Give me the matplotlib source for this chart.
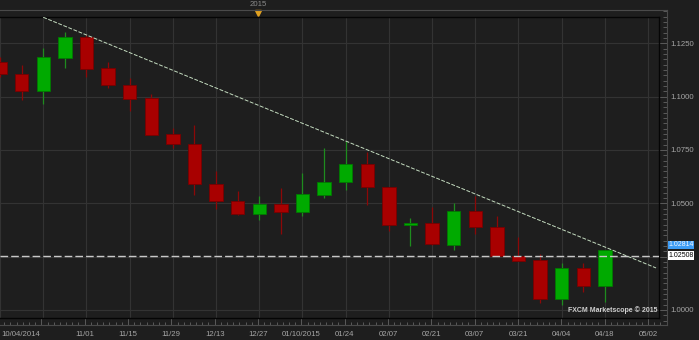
import numpy as np
import matplotlib
matplotlib.use("Agg")
import matplotlib.pyplot as plt
import matplotlib.transforms as mtrans
from matplotlib.ticker import MultipleLocator, FixedLocator

plt.rcParams['font.family'] = ['Liberation Sans', 'DejaVu Sans']

# weekly EUR/USD candles, week index 0 = 10/04/2014
opens = [1.1162, 1.1106, 1.1027, 1.1182, 1.1281, 1.1133, 1.1054, 1.0992, 1.0824, 1.0780,
         1.0592, 1.0510, 1.0449, 1.0495, 1.0457, 1.0541, 1.0600, 1.0686, 1.0576, 1.0398,
         1.0407, 1.0305, 1.0465, 1.0391, 1.0254, 1.0232, 1.0050, 1.0196, 1.0111]
highs = [1.1185, 1.1148, 1.1227, 1.1303, 1.1290, 1.1162, 1.1088, 1.1013, 1.0853, 1.0866,
         1.0650, 1.0557, 1.0536, 1.0571, 1.0640, 1.0757, 1.0793, 1.0741, 1.0578, 1.0430,
         1.0482, 1.0503, 1.0533, 1.0440, 1.0341, 1.0263, 1.0219, 1.0222, 1.0283]
lows = [1.1090, 1.0984, 1.0966, 1.1135, 1.1090, 1.1039, 1.0933, 1.0820, 1.0761, 1.0537,
        1.0475, 1.0447, 1.0423, 1.0357, 1.0442, 1.0523, 1.0561, 1.0490, 1.0368, 1.0302,
        1.0305, 1.0283, 1.0357, 1.0252, 1.0228, 1.0031, 1.0022, 1.0083, 1.0039]
closes = [1.1106, 1.1027, 1.1184, 1.1281, 1.1129, 1.1053, 1.0988, 1.0822, 1.0778, 1.0590,
          1.0509, 1.0449, 1.0495, 1.0457, 1.0542, 1.0600, 1.0686, 1.0576, 1.0398, 1.0407,
          1.0307, 1.0465, 1.0388, 1.0254, 1.0230, 1.0050, 1.0196, 1.0111, 1.02814]

tick_pos = [0, 2, 4, 6, 8, 10, 12, 14, 16, 18, 20, 22, 24, 26, 28, 30]
tick_labels = ["10/04/2014", "", "11/01", "11/15", "11/29", "12/13", "12/27", "01/10/2015",
               "01/24", "02/07", "02/21", "03/07", "03/21", "04/04", "04/18", "05/02"]

trend_x = [2.0, 30.37]
trend_y = [1.1372, 1.0197]
support = 1.02508
last_price = 1.02814

bg = '#1e1e1e'
grid_c = '#333333'
text_c = '#a6a6a6'
fs = 5.6

W, H = 699, 340
fig = plt.figure(figsize=(W / 100, H / 100), dpi=100, facecolor=bg)

# pixel geometry of the chart
ppu = 21.667          # px per week
x0 = -2.0             # px of week 0
ppv = 2133.3          # px per price unit
y1125 = 43.3          # px of 1.1250


def xl(px):
    return (px - x0) / ppu


def yl(py):
    return 1.125 - (py - y1125) / ppv


def price_fmt(v, p):
    # the 1.0250 label is hidden under the price flags
    if abs(v - 1.025) < 1e-6:
        return ""
    return f"{v:.4f}"


# outer frame with the tick marks
fr = fig.add_axes([0, 1 - 325 / H, 667 / W, 315 / H])
fr.set_facecolor(bg)
fr.set_xlim(xl(0), xl(667))
fr.set_ylim(yl(325), yl(10))
fr.spines['left'].set_visible(False)
for s in ['top', 'right', 'bottom']:
    fr.spines[s].set_color('#4a4a4a')
    fr.spines[s].set_linewidth(0.8)
fr.yaxis.tick_right()
fr.yaxis.set_major_locator(MultipleLocator(0.025))
fr.yaxis.set_minor_locator(MultipleLocator(0.0025))
fr.yaxis.set_major_formatter(price_fmt)
fr.tick_params(axis='y', which='major', direction='in', length=6, width=0.7,
               color='#5a5a5a', labelsize=fs, labelcolor=text_c, pad=2.3)
fr.tick_params(axis='y', which='minor', direction='in', length=3, width=0.7,
               color='#5a5a5a')
fr.xaxis.set_major_locator(FixedLocator(tick_pos))
fr.set_xticklabels([""] + tick_labels[1:])
fr.xaxis.set_minor_locator(MultipleLocator(2 / 7))
fr.tick_params(axis='x', which='major', direction='in', length=5, width=0.7,
               color='#5a5a5a', labelsize=fs, labelcolor=text_c, pad=4)
fr.tick_params(axis='x', which='minor', direction='in', length=2.2, width=0.7,
               color='#5a5a5a')
# first date label sits flush left
fr.annotate(tick_labels[0], xy=(xl(1), 0), xycoords=('data', 'axes fraction'),
            xytext=(0, -4), textcoords='offset points', ha='left', va='top',
            fontsize=fs, color=text_c, annotation_clip=False)

# main price area
ax = fig.add_axes([0, 1 - 318 / H, 659 / W, 301 / H])
ax.set_facecolor(bg)
ax.set_xlim(xl(0), xl(659))
ax.set_ylim(yl(318), yl(17))
for s in ['top', 'right', 'bottom']:
    ax.spines[s].set_color('#050505')
    ax.spines[s].set_linewidth(1.0)
ax.spines['left'].set_visible(False)
ax.set_xticks(tick_pos)
ax.yaxis.set_major_locator(MultipleLocator(0.025))
ax.tick_params(length=0, labelbottom=False, labelleft=False)
ax.grid(True, color=grid_c, linewidth=0.8)
ax.set_axisbelow(True)

o = np.array(opens)
c = np.array(closes)
hi = np.array(highs)
lo = np.array(lows)
idx = np.arange(len(o))
up = c >= o
body_col = np.where(up, '#00aa00', '#a80000')
edge_col = np.where(up, '#007a00', '#780000')
wick_col = np.where(up, '#1e8c1e', '#8c0808')

ax.vlines(idx, lo, hi, colors=wick_col, linewidth=0.9, zorder=2)
ax.bar(idx, np.maximum(np.abs(c - o), 0.0004), bottom=np.minimum(o, c), width=0.62,
       color=body_col, edgecolor=edge_col, linewidth=0.6, zorder=3)

ax.plot(trend_x, trend_y, color='#c4dcc0', linewidth=0.7, dashes=(4, 1.6), zorder=4)
ax.axhline(support, color='#c8c8c8', linewidth=1.0, dashes=(5.5, 2.2), zorder=5)

ax.text(0.997, 0.012, "FXCM Marketscope \u00a9 2015", transform=ax.transAxes,
        ha='right', va='bottom', fontsize=5.0, fontweight='bold', color='#cfcfcf', zorder=6)

# price flags on the right axis
fr.annotate(f"{support:.5f}", xy=(1, support), xycoords=('axes fraction', 'data'),
            xytext=(1.0, 0.6), textcoords='offset points', ha='left', va='center',
            fontsize=5.0, color='#000000', annotation_clip=False,
            bbox=dict(boxstyle='square,pad=0.1', fc='#ffffff', ec='none'))
fr.annotate(f"{last_price:.5f}", xy=(1, last_price), xycoords=('axes fraction', 'data'),
            xytext=(1.0, 3.6), textcoords='offset points', ha='left', va='center',
            fontsize=5.0, color='#f0f6ff', annotation_clip=False,
            bbox=dict(boxstyle='square,pad=0.1', fc='#3d9cf5', ec='none'))

# year marker in the time strip
tr = mtrans.blended_transform_factory(fr.transData, fig.transFigure)
fig.text(12, 1 - 5 / H, "2015", transform=tr, ha='center', va='center',
         fontsize=fs, color='#8a8a8a')
fr.plot([12], [1 - 12.5 / H], marker='v', markersize=4.5, color='#e0a020',
        transform=tr, clip_on=False)

fig.savefig("out.png", dpi=100, facecolor=bg)
